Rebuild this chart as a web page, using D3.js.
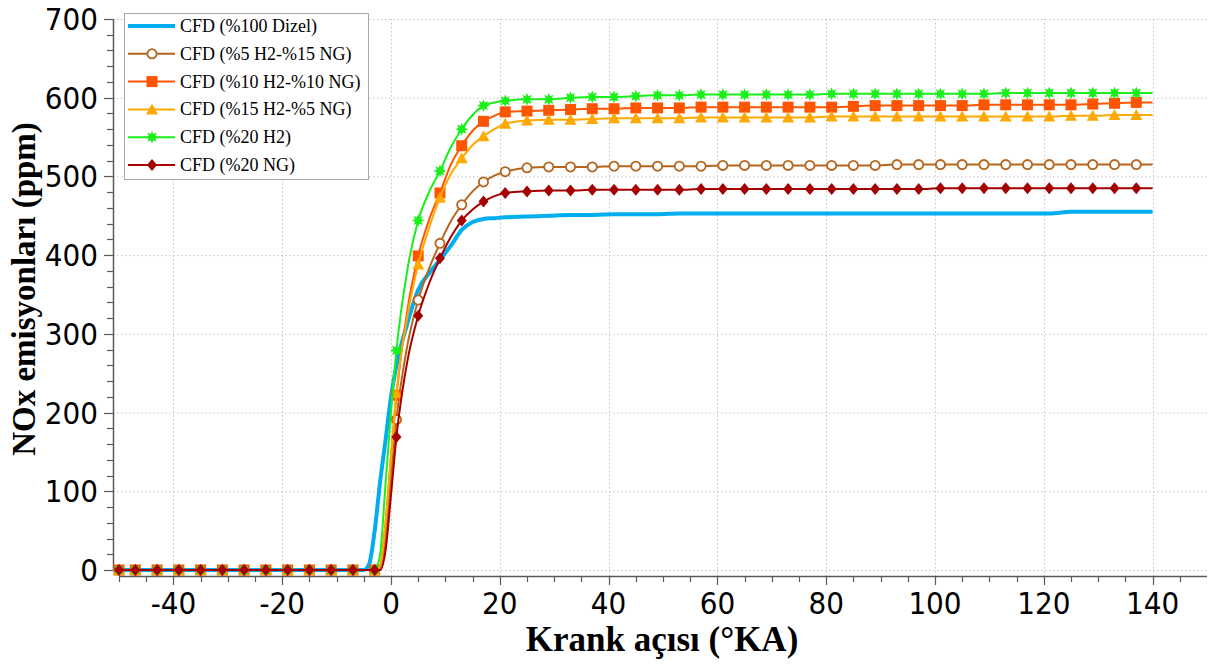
<!DOCTYPE html>
<html>
<head>
<meta charset="utf-8">
<script src="https://cdn.jsdelivr.net/npm/d3@7"></script>
<style>
  html, body { margin: 0; padding: 0; background: #ffffff; }
  svg { display: block; }
  .tick-label { font-family: "DejaVu Sans Condensed", "DejaVu Sans", sans-serif; font-stretch: condensed; font-size: 31px; fill: #000; }
  .axis-title { font-family: "Liberation Serif", "Times New Roman", serif; font-weight: bold; fill: #000; }
  .legend-text { font-family: "Liberation Serif", "Times New Roman", serif; font-size: 18px; fill: #000; }
</style>
</head>
<body>
<script>
// ---------------- DATA ----------------
const angles = [-50,-47,-43,-39,-35,-31,-27,-23,-19,-15,-11,-7,
  -5,-4,-3,-2,-1,0,
  1,3,5,7,9,11,13,15,17,19,
  21,25,29,33,37,41,45,49,53,57,61,65,69,73,77,81,85,89,93,97,101,105,109,113,117,121,125,129,133,137,
  140];

const markerAngles = [-50,-47,-43,-39,-35,-31,-27,-23,-19,-15,-11,-7,-3,
  1,5,9,13,17,21,25,29,33,37,41,45,49,53,57,61,65,69,73,77,81,85,89,93,97,101,105,109,113,117,121,125,129,133,137];

const seriesNames = ["CFD (%100 Dizel)", "CFD (%5 H2-%15 NG)", "CFD (%10 H2-%10 NG)",
  "CFD (%15 H2-%5 NG)", "CFD (%20 H2)", "CFD (%20 NG)"];

const dizel = [0,0,0,0,0,0,0,0,0,0,0,0,
  0,8,50,112,165,220,
  260,313,356,377,394,412,432,442,446,447,
  448,449,450,451,451,452,452,452,453,453,453,453,453,453,453,453,453,453,453,453,453,453,453,453,453,453,455,455,455,455,
  455];

const h5ng15 = [0,0,0,0,0,0,0,0,0,0,0,0,
  0,0,0,3,40,115,
  191,285,343,383,415,443,464,481,493,501,
  506,511,512,512,512,513,513,513,513,513,514,514,514,514,514,514,514,514,515,515,515,515,515,515,515,515,515,515,515,515,
  515];

const h10ng10 = [0,0,0,0,0,0,0,0,0,0,0,0,
  0,0,0,5,60,145,
  222,330,399,445,479,515,539,558,570,577,
  582,583,584,585,586,586,587,587,587,588,588,588,588,588,588,588,589,590,590,590,590,590,591,591,591,591,591,592,593,594,
  594];

const h15ng5 = [0,0,0,0,0,0,0,0,0,0,0,0,
  0,0,0,5,60,145,
  225,322,388,435,473,503,523,540,551,560,
  567,571,572,572,573,574,574,574,574,575,575,575,575,575,575,576,576,576,576,576,576,576,576,576,576,576,577,577,578,578,
  578];

const h20 = [0,0,0,0,0,0,0,0,0,0,0,0,
  0,0,0,20,110,200,
  279,381,444,480,507,537,560,578,590,594,
  596,598,598,600,601,601,602,603,603,604,604,604,604,604,604,605,605,605,605,605,605,605,605,606,606,606,606,606,606,606,
  606];

const ng20 = [0,0,0,0,0,0,0,0,0,0,0,0,
  0,0,0,0,25,95,
  169,265,323,364,396,423,444,458,468,475,
  479,481,482,482,483,483,483,483,483,484,484,484,484,484,484,484,484,484,484,484,485,485,485,485,485,485,485,485,485,485,
  485];

const xTickLabels = [-40,-20,0,20,40,60,80,100,120,140];
const yTickLabels = [0,100,200,300,400,500,600,700];

// ---------------- STYLE ----------------
const W = 1212, H = 666;
const styles = [
  {values: dizel,   color: "#00AEEF", width: 4,   marker: null},
  {values: h5ng15,  color: "#B5651D", width: 2,   marker: "circle"},
  {values: h10ng10, color: "#FF5500", width: 2,   marker: "square"},
  {values: h15ng5,  color: "#FFA800", width: 2,   marker: "triangle"},
  {values: h20,     color: "#19F019", width: 2,   marker: "star"},
  {values: ng20,    color: "#A50000", width: 2,   marker: "diamond"}
];

const svg = d3.select("body").append("svg").attr("width", W).attr("height", H);

const x = d3.scaleLinear().domain([-50, 150]).range([119, 1207]);
const y = d3.scaleLinear().domain([0, 700]).range([570, 19]);

// grid
const grid = svg.append("g").attr("stroke", "#c4c4c4").attr("stroke-width", 1).attr("stroke-dasharray", "1.5,2.5");
grid.selectAll("line.h").data(yTickLabels).join("line")
  .attr("x1", 113).attr("x2", 1207)
  .attr("y1", d => y(d) + 0.5).attr("y2", d => y(d) + 0.5);
grid.selectAll("line.v").data(xTickLabels).join("line")
  .attr("x1", d => Math.round(x(d)) + 0.5).attr("x2", d => Math.round(x(d)) + 0.5)
  .attr("y1", 19).attr("y2", 576);

// axes
const axisColor = "#5a5a5a";
const xAxisY = 576, yAxisX = 113;
const xMinor = d3.range(-50, 150, 5);
const yMinor = d3.range(0, 701, 20);

const gx = svg.append("g");
gx.append("line").attr("x1", 119).attr("x2", 1207).attr("y1", xAxisY + 0.5).attr("y2", xAxisY + 0.5)
  .attr("stroke", axisColor).attr("stroke-width", 1.5);
gx.selectAll("line.t").data(xMinor).join("line")
  .attr("x1", d => Math.round(x(d)) + 0.5).attr("x2", d => Math.round(x(d)) + 0.5)
  .attr("y1", xAxisY).attr("y2", d => xAxisY + (d % 20 === 0 ? 9 : 6))
  .attr("stroke", axisColor).attr("stroke-width", 1.2);
gx.selectAll("text").data(xTickLabels).join("text")
  .attr("class", "tick-label")
  .attr("x", d => x(d)).attr("y", 614)
  .attr("text-anchor", "middle")
  .text(d => d);

const gy = svg.append("g");
gy.append("line").attr("x1", yAxisX + 0.5).attr("x2", yAxisX + 0.5).attr("y1", 19).attr("y2", 570)
  .attr("stroke", axisColor).attr("stroke-width", 1.5);
gy.selectAll("line.t").data(yMinor).join("line")
  .attr("x1", d => yAxisX - (d % 100 === 0 ? 9 : 6)).attr("x2", yAxisX)
  .attr("y1", d => Math.round(y(d)) + 0.5).attr("y2", d => Math.round(y(d)) + 0.5)
  .attr("stroke", axisColor).attr("stroke-width", 1.2);
gy.selectAll("text").data(yTickLabels).join("text")
  .attr("class", "tick-label")
  .attr("x", 98).attr("y", d => y(d) + 11)
  .attr("text-anchor", "end")
  .text(d => d);

// titles
svg.append("text").attr("class", "axis-title").attr("font-size", 35)
  .attr("x", 662).attr("y", 651).attr("text-anchor", "middle")
  .text("Krank açısı (°KA)");
svg.append("text").attr("class", "axis-title").attr("font-size", 33)
  .attr("transform", "translate(35,289) rotate(-90)").attr("text-anchor", "middle")
  .text("NOx emisyonları (ppm)");

// marker paths
function starPath(ro, ri, n) {
  const pts = [];
  for (let i = 0; i < 2 * n; i++) {
    const r = i % 2 === 0 ? ro : ri;
    const a = Math.PI * i / n - Math.PI / 2;
    pts.push([r * Math.cos(a), r * Math.sin(a)]);
  }
  return "M" + pts.map(p => p[0].toFixed(2) + "," + p[1].toFixed(2)).join("L") + "Z";
}
function drawMarker(g, type, color) {
  if (type === "circle") {
    g.append("circle").attr("r", 4.6).attr("fill", "#fff").attr("stroke", color).attr("stroke-width", 1.8);
  } else if (type === "square") {
    g.append("rect").attr("x", -5.5).attr("y", -5.5).attr("width", 11).attr("height", 11).attr("fill", color);
  } else if (type === "triangle") {
    g.append("path").attr("d", "M0,-6L6,5L-6,5Z").attr("fill", color);
  } else if (type === "star") {
    g.append("path").attr("d", starPath(6.5, 3.4, 8)).attr("fill", color);
  } else if (type === "diamond") {
    g.append("path").attr("d", "M0,-6L5,0L0,6L-5,0Z").attr("fill", color);
  }
}

// lines
const line = d3.line().x(d => x(d[0])).y(d => y(d[1])).curve(d3.curveMonotoneX);
const markerSet = new Set(markerAngles);
const plot = svg.append("g");
styles.forEach(s => {
  const pts = angles.map((a, i) => [a, s.values[i]]);
  const g = plot.append("g");
  g.append("path").attr("d", line(pts)).attr("fill", "none")
    .attr("stroke", s.color).attr("stroke-width", s.width).attr("stroke-linejoin", "round");
  if (s.marker) {
    pts.filter(p => markerSet.has(p[0])).forEach(p => {
      const mg = g.append("g").attr("transform", `translate(${x(p[0])},${y(p[1])})`);
      drawMarker(mg, s.marker, s.color);
    });
  }
});

// legend
const lg = svg.append("g");
lg.append("rect").attr("x", 124.5).attr("y", 13.5).attr("width", 244).attr("height", 166)
  .attr("fill", "#fff").attr("stroke", "#a8a8a8").attr("stroke-width", 1);
styles.forEach((s, i) => {
  const cy = 26 + i * 27.8;
  lg.append("line").attr("x1", 128).attr("x2", 175).attr("y1", cy).attr("y2", cy)
    .attr("stroke", s.color).attr("stroke-width", s.width);
  if (s.marker) {
    const mg = lg.append("g").attr("transform", `translate(152,${cy})`);
    drawMarker(mg, s.marker, s.color);
  }
  lg.append("text").attr("class", "legend-text").attr("x", 180).attr("y", cy + 6).text(seriesNames[i]);
});
</script>
</body>
</html>
